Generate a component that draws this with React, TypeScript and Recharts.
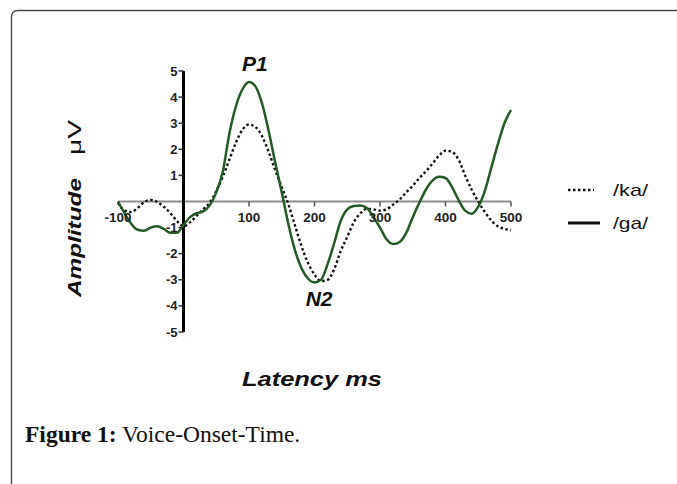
import { LineChart, Line, XAxis, YAxis, ReferenceLine, ReferenceDot } from "recharts";

// latency in ms, amplitude in microvolts
const LATENCY = [
  -100, -90, -80, -70, -60, -50, -40, -30, -20, -10, 0, 10, 20, 30, 40, 50, 60, 70, 80, 90, 100,
  110, 120, 130, 140, 150, 160, 170, 180, 190, 200, 210, 220, 230, 240, 250, 260, 270, 280, 290,
  300, 310, 320, 330, 340, 350, 360, 370, 380, 390, 400, 410, 420, 430, 440, 450, 460, 470, 480,
  490, 500,
];
const KA = [
  -0.05, -0.35, -0.4, -0.25, -0.02, 0.06, -0.02, -0.2, -0.45, -0.75, -0.95, -0.8, -0.55, -0.3,
  -0.05, 0.4, 0.95, 1.6, 2.25, 2.75, 2.95, 2.85, 2.5, 1.9, 1.2, 0.55, -0.1, -0.9, -1.7, -2.35,
  -2.8, -3.05, -3.0, -2.6, -1.9, -1.35, -0.8, -0.45, -0.28, -0.3, -0.35, -0.3, -0.12, 0.08, 0.35,
  0.6, 0.9, 1.15, 1.45, 1.75, 1.95, 1.9, 1.6, 1.0, 0.45, 0.0, -0.4, -0.73, -0.95, -1.05, -1.1,
];
const GA = [
  0.0, -0.45, -0.85, -1.08, -1.12, -1.0, -0.95, -1.05, -1.2, -1.2, -0.9, -0.6, -0.45, -0.38,
  -0.15, 0.35, 1.15, 2.6, 3.65, 4.3, 4.58, 4.4, 3.75, 2.7, 1.5, 0.35, -0.85, -1.85, -2.55,
  -2.95, -3.1, -3.0, -2.4, -1.6, -0.75, -0.3, -0.17, -0.15, -0.25, -0.6, -1.0, -1.45, -1.63,
  -1.55, -1.2, -0.6, -0.05, 0.45, 0.8, 0.95, 0.9, 0.55, 0.05, -0.35, -0.47, -0.2, 0.4, 1.3, 2.2,
  3.0, 3.5,
];
const X_TICKS = [-100, 100, 200, 300, 400, 500];
const Y_TICKS = [5, 4, 3, 2, 1, -1, -2, -3, -4, -5];
const PEAKS = [
  { name: "P1", t: 109, v: 5.3 },
  { name: "N2", t: 207, v: -3.7 },
];
const LEGEND = [
  { name: "/ka/", dash: "2.5 2.5", width: 2.3, len: 26 },
  { name: "/ga/", dash: undefined, width: 3, len: 32 },
];

const data = LATENCY.map((t, i) => ({ t, ka: KA[i], ga: GA[i] }));

const sans = "'Liberation Sans', Arial, Helvetica, sans-serif";
const serif = "'Liberation Serif', 'Times New Roman', serif";

export default function App() {
  return (
    <div style={{ position: "absolute", left: 0, top: 0, width: 677, height: 484, background: "#fff", overflow: "hidden" }}>
      <LineChart
        width={677}
        height={484}
        data={data}
        margin={{ top: 71, right: 166, bottom: 152, left: 118 }}
      >
        <XAxis dataKey="t" type="number" domain={[-100, 500]} hide />
        <YAxis type="number" domain={[-5, 5]} hide />
        <ReferenceLine y={0} stroke="#8c8c8c" strokeWidth={2.2} />
        <ReferenceLine x={0} stroke="#000" strokeWidth={3} />
        {X_TICKS.map((t) => (
          <ReferenceDot
            key={"x" + t}
            x={t}
            y={0}
            r={0}
            shape={(p: any) => (
              <g>
                {t > 0 && <line x1={p.cx} x2={p.cx} y1={p.cy} y2={p.cy + 5} stroke="#555" strokeWidth={1.5} />}
                <text x={p.cx} y={p.cy + 16} textAnchor="middle" dominantBaseline="central" fontFamily={sans} fontWeight="bold" fontSize={13.5} fill="#222">
                  {t}
                </text>
              </g>
            )}
          />
        ))}
        {Y_TICKS.map((v) => (
          <ReferenceDot
            key={"y" + v}
            x={0}
            y={v}
            r={0}
            shape={(p: any) => (
              <g>
                <line x1={p.cx - 5} x2={p.cx} y1={p.cy} y2={p.cy} stroke="#333" strokeWidth={1.5} />
                <text x={p.cx - 6} y={p.cy} textAnchor="end" dominantBaseline="central" fontFamily={sans} fontWeight="bold" fontSize={13} fill="#222">
                  {v}
                </text>
              </g>
            )}
          />
        ))}
        <Line
          dataKey="ka"
          type="monotone"
          stroke="#111"
          strokeWidth={2.4}
          strokeDasharray="2.5 2.5"
          dot={false}
          isAnimationActive={false}
        />
        <Line
          dataKey="ga"
          type="monotone"
          stroke="#245a24"
          strokeWidth={2.5}
          dot={false}
          isAnimationActive={false}
        />
        {PEAKS.map((pk) => (
          <ReferenceDot
            key={pk.name}
            x={pk.t}
            y={pk.v}
            r={0}
            ifOverflow="visible"
            shape={(p: any) => (
              <text x={p.cx} y={p.cy} textAnchor="middle" dominantBaseline="central" fontFamily={sans} fontWeight="bold" fontStyle="italic" fontSize={21} fill="#111">
                {pk.name}
              </text>
            )}
          />
        ))}
      </LineChart>
      <svg width={677} height={484} style={{ position: "absolute", left: 0, top: 0, pointerEvents: "none" }}>
        <path d="M11.5 484 V17 Q11.5 10.5 18 10.5 H677" fill="none" stroke="#444" strokeWidth={1.4} />
        <text transform="translate(81,297) rotate(-90)" fontFamily={sans} fill="#111">
          <tspan fontWeight="bold" fontStyle="italic" fontSize={18} textLength={119} lengthAdjust="spacingAndGlyphs">Amplitude</tspan>
        </text>
        <text transform="translate(81,155) rotate(-90)" fontFamily={sans} fontSize={18} fill="#111" textLength={35} lengthAdjust="spacingAndGlyphs">
          μV
        </text>
        <text x={242} y={386} fontFamily={sans} fontWeight="bold" fontStyle="italic" fontSize={21} fill="#111" textLength={140} lengthAdjust="spacingAndGlyphs">
          Latency ms
        </text>
        {LEGEND.map((l, i) => (
          <g key={l.name}>
            <line x1={568} x2={568 + l.len} y1={190 + i * 33} y2={190 + i * 33} stroke="#111" strokeWidth={l.width} strokeDasharray={l.dash} />
            <text x={613} y={190 + i * 33} dominantBaseline="central" fontFamily={sans} fontSize={17} fill="#111" textLength={35} lengthAdjust="spacingAndGlyphs">
              {l.name}
            </text>
          </g>
        ))}
        <text x={25} y={442} fontFamily={serif} fontSize={23.5} fill="#111">
          <tspan fontWeight="bold">Figure 1:</tspan>
          <tspan> Voice-Onset-Time.</tspan>
        </text>
      </svg>
    </div>
  );
}
